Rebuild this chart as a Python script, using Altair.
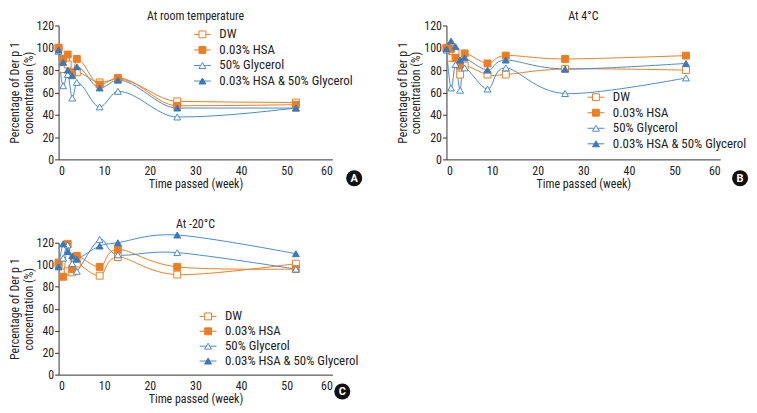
import altair as alt
import pandas as pd

series = ["DW", "0.03% HSA", "50% Glycerol", "0.03% HSA & 50% Glycerol"]

weeks_a = [0, 1, 2, 3, 4, 9, 13, 26, 52]
a_dw = [100, 81, 85, 77, 78, 69, 72, 52, 51]
a_hsa = [100, 90, 94, 78, 90, 67, 73, 48, 49]
a_gly = [97, 66, 76, 55, 69, 47, 61, 38, 46]
a_cmb = [98, 87, 80, 75, 83, 64, 71, 46, 46]

weeks_b = [0, 1, 2, 3, 4, 9, 13, 26, 52.5]
b_dw = [100, 91, 96, 76, 84, 76, 76, 81, 80]
b_hsa = [100, 99, 91, 84, 95, 86, 93, 90, 93]
b_gly = [98, 64, 85, 62, 82, 63, 82, 59, 73]
b_cmb = [99, 106, 101, 89, 91, 80, 89, 81, 86]

weeks_c = [0, 1, 2, 3, 4, 9, 13, 26, 52]
c_dw = [100, 93, 94, 93, 101, 90, 107, 91, 101]
c_hsa = [102, 89, 119, 96, 108, 98, 114, 98, 96]
c_gly = [99, 106, 118, 101, 94, 123, 109, 111, 96]
c_cmb = [98, 119, 112, 108, 105, 117, 120, 127, 110]

titles = ["At room temperature", "At 4°C", "At -20°C"]
letters = ["A", "B", "C"]

ORANGE = "#EE7D22"
BLUE = "#4A89C8"
BLUE_D = "#3A78BE"
stroke_cols = [ORANGE, ORANGE, BLUE, BLUE_D]
fill_cols = ["white", ORANGE, "white", BLUE_D]
line_cols = [ORANGE, ORANGE, BLUE, BLUE]
shapes = ["square", "square", "triangle-up", "triangle-up"]

FONT = "Liberation Sans Narrow, Roboto Condensed, Roboto, sans-serif"


def make_df(weeks, vals):
    rows = []
    for s, v in zip(series, vals):
        for w, y in zip(weeks, v):
            rows.append({"week": w, "value": y, "series": s})
    return pd.DataFrame(rows)


legend_df = pd.DataFrame({"series": series})


def panel(df, title, letter, lx, ly0, ly1, interp, h, cx, cy, toff):
    base = alt.Chart(df)
    x = alt.X("week:Q", scale=alt.Scale(domain=[0, 60], nice=False),
              axis=alt.Axis(values=[0, 10, 20, 30, 40, 50, 60], title="Time passed (week)"))
    y = alt.Y("value:Q", scale=alt.Scale(domain=[0, 120], nice=False),
              axis=alt.Axis(values=[0, 20, 40, 60, 80, 100, 120],
                            title=["Percentage of Der p 1", "concentration (%)"]))
    col = alt.Color("series:N", scale=alt.Scale(domain=series, range=line_cols), legend=None)
    lines = base.mark_line(interpolate=interp, strokeWidth=1, clip=False).encode(x=x, y=y, color=col)
    data_layers = [lines]
    for s, sh, sc, fc in zip(series, shapes, stroke_cols, fill_cols):
        data_layers.append(
            base.transform_filter(alt.datum.series == s).mark_point(
                shape=sh, size=48, strokeWidth=1, opacity=1, stroke=sc, fill=fc, filled=False
            ).encode(x=x, y=y)
        )
    data_group = alt.layer(*data_layers)

    lbase = alt.Chart(legend_df)
    ly = alt.Y("series:N", scale=alt.Scale(type="point", domain=series, range=[ly0, ly1], padding=0),
               axis=None)
    lrule = lbase.mark_rule(strokeWidth=1).encode(
        x=alt.value(lx - 8.5), x2=alt.value(lx + 8.5), y=ly, color=col)
    lpts = lbase.mark_point(size=48, strokeWidth=1, opacity=1).encode(
        x=alt.value(lx), y=ly,
        stroke=alt.Stroke("series:N", scale=alt.Scale(domain=series, range=stroke_cols), legend=None),
        fill=alt.Fill("series:N", scale=alt.Scale(domain=series, range=fill_cols), legend=None),
        shape=alt.Shape("series:N", scale=alt.Scale(domain=series, range=shapes), legend=None),
    )
    ltxt = lbase.mark_text(align="left", baseline="middle", font=FONT, fontSize=13, color="#222").encode(
        x=alt.value(lx + 17), y=ly, text="series:N")
    legend_group = alt.layer(lrule, lpts, ltxt)

    one = alt.Chart(alt.Data(values=[{"k": 1}]))
    circ = one.mark_point(shape="circle", filled=True, color="#111", size=260, opacity=1).encode(
        x=alt.value(cx), y=alt.value(cy))
    txt = one.mark_text(color="white", fontWeight="bold", fontSize=11, font="Roboto").encode(
        x=alt.value(cx), y=alt.value(cy + 0.5), text=alt.value(letter))
    badge = alt.layer(circ, txt)

    return alt.layer(data_group, legend_group, badge).resolve_scale(y="independent").properties(
        width=276, height=h,
        title=alt.TitleParams(title, fontSize=12, fontWeight="normal", font=FONT, color="#222", offset=toff),
    )


pa = panel(make_df(weeks_a, [a_dw, a_hsa, a_gly, a_cmb]), titles[0], letters[0],
           145, 9, 56, "monotone", 135, 298, 154, -3)
pb = panel(make_df(weeks_b, [b_dw, b_hsa, b_gly, b_cmb]), titles[1], letters[1],
           150.7, 72.3, 119.3, "cardinal", 135, 296, 154, -3)
pc = panel(make_df(weeks_c, [c_dw, c_hsa, c_gly, c_cmb]), titles[2], letters[2],
           150.7, 74.3, 119.3, "cardinal", 133, 286, 150, -1)

top = alt.hconcat(pa, pb, spacing=33)
chart = alt.vconcat(top, pc, spacing=29).properties(
    padding=0
).configure_view(stroke=None).configure_axis(
    grid=False, domainColor="#333", tickColor="#333", labelColor="#222", titleColor="#222",
    labelFont=FONT, titleFont=FONT, labelFontSize=12, titleFontSize=12, titleFontWeight="normal",
    tickSize=4, labelPadding=1,
).configure_axisY(titlePadding=1, titleLineHeight=14).configure_axisX(
    titlePadding=2, labelPadding=6, ticks=False)

chart.save("out.html", embed_options={"renderer": "svg", "actions": False})
